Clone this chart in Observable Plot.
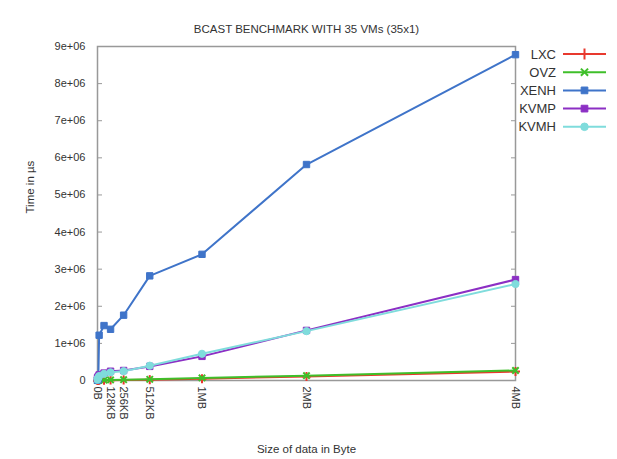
<!DOCTYPE html>
<html><head><meta charset="utf-8">
<script src="https://cdn.jsdelivr.net/npm/d3@7"></script>
<script src="https://cdn.jsdelivr.net/npm/@observablehq/plot@0.6"></script>
<style>
body{margin:0;background:#fff;}
svg{font-family:"Liberation Sans",Arial,sans-serif;}
</style>
</head><body>
<div id="chart"></div>
<script>
const title = "BCAST BENCHMARK WITH 35 VMs (35x1)";
const xLabel = "Size of data in Byte";
const yLabel = "Time in µs";
const sizes = [1, 1024, 8192, 16384, 65536, 131072, 262144, 524288, 1048576, 2097152, 4194304];
const seriesNames = ["LXC", "OVZ", "XENH", "KVMP", "KVMH"];
const lxc  = [1000, 2000, 4000, 6000, 8000, 10000, 14000, 22000, 50000, 110000, 240000];
const ovz  = [1000, 2000, 5000, 8000, 12000, 16000, 22000, 32000, 70000, 130000, 270000];
const xenh = [5000, 10000, 40000, 1220000, 1480000, 1380000, 1760000, 2820000, 3400000, 5820000, 8780000];
const kvmp = [50000, 80000, 110000, 150000, 200000, 250000, 270000, 380000, 650000, 1350000, 2720000];
const kvmh = [20000, 50000, 80000, 120000, 180000, 220000, 250000, 400000, 720000, 1330000, 2600000];
const xTicks = [0, 131072, 262144, 524288, 1048576, 2097152, 4194304];
const xTickLabels = ["0B", "128KB", "256KB", "512KB", "1MB", "2MB", "4MB"];
const yTicks = [0, 1e6, 2e6, 3e6, 4e6, 5e6, 6e6, 7e6, 8e6, 9e6];
const yTickLabels = ["0", "1e+06", "2e+06", "3e+06", "4e+06", "5e+06", "6e+06", "7e+06", "8e+06", "9e+06"];

const colors = {LXC: "#e8392e", OVZ: "#3fbf2a", XENH: "#3f74c9", KVMP: "#8c2fc4", KVMH: "#7fdcdc"};
const symbols = {LXC: "plus", OVZ: "times", XENH: "square", KVMP: "square", KVMH: "circle"};
const values = {LXC: lxc, OVZ: ovz, XENH: xenh, KVMP: kvmp, KVMH: kvmh};
const data = seriesNames.flatMap(s => sizes.map((x, i) => ({series: s, x, y: values[s][i]})));

const lineMarks = seriesNames.flatMap(s => {
  const d = data.filter(r => r.series === s);
  const filled = symbols[s] === "square" || symbols[s] === "circle";
  return [
    Plot.line(d, {x: "x", y: "y", stroke: colors[s], strokeWidth: 2}),
    Plot.dot(d, {x: "x", y: "y", symbol: () => symbols[s], r: filled ? 3.6 : 3,
      fill: filled ? colors[s] : "none", stroke: colors[s], strokeWidth: filled ? 1 : 2})
  ];
});

const chart = Plot.plot({
  width: 617, height: 459,
  marginTop: 46, marginBottom: 79, marginLeft: 97, marginRight: 102,
  style: {fontSize: "11px", color: "#444", background: "#fff"},
  x: {domain: [0, 4194304], type: "linear"},
  y: {domain: [0, 9e6]},
  symbol: {type: "identity"},
  marks: [
    Plot.frame({stroke: "#999", strokeWidth: 1.5}),
    Plot.axisY({ticks: yTicks, tickSize: -5, tickPadding: 17, tickFormat: d => yTickLabels[yTicks.indexOf(d)], label: null, stroke: "#999", fontSize: 11, fill: "#333"}),
    Plot.axisY({anchor: "right", ticks: yTicks.slice(1, -1), tickSize: -5, tickFormat: () => "", label: null, stroke: "#999"}),
    Plot.axisX({ticks: xTicks, tickSize: -5, tickPadding: 11, tickRotate: 90, tickFormat: d => xTickLabels[xTicks.indexOf(d)], label: null, stroke: "#999", fontSize: 11, fill: "#333"}),
    ...lineMarks,
    Plot.text([title], {frameAnchor: "top", dy: -22, fontSize: 11.5, fill: "#333"}),
    Plot.text([xLabel], {frameAnchor: "bottom", dy: 72, fontSize: 11.5, fill: "#333"}),
    Plot.text([yLabel], {frameAnchor: "left", dx: -67, rotate: -90, fontSize: 11.5, fill: "#333"})
  ]
});
document.getElementById("chart").appendChild(chart);

// legend (gnuplot-style, top right outside the frame)
const svg = d3.select(chart);
const lg = svg.append("g").attr("font-size", 13).attr("fill", "#333");
const symGen = {square: d3.symbolSquare, circle: d3.symbolCircle};
seriesNames.forEach((s, i) => {
  const y = 54 + i * 18.2;
  lg.append("text").attr("x", 556).attr("y", y).attr("dy", "0.35em").attr("text-anchor", "end").text(s);
  lg.append("line").attr("x1", 563).attr("x2", 606).attr("y1", y).attr("y2", y).attr("stroke", colors[s]).attr("stroke-width", 2);
  const filled = symbols[s] === "square" || symbols[s] === "circle";
  const sym = symbols[s] === "plus" ? d3.symbol(d3.symbolPlus, 40) : symbols[s] === "times" ? d3.symbol(d3.symbolTimes, 35) : d3.symbol(symGen[symbols[s]], 45);
  lg.append("path").attr("d", sym()).attr("transform", `translate(584.5,${y})`)
    .attr("fill", filled ? colors[s] : "none").attr("stroke", colors[s]).attr("stroke-width", filled ? 1 : 2);
});
</script>
</body></html>
